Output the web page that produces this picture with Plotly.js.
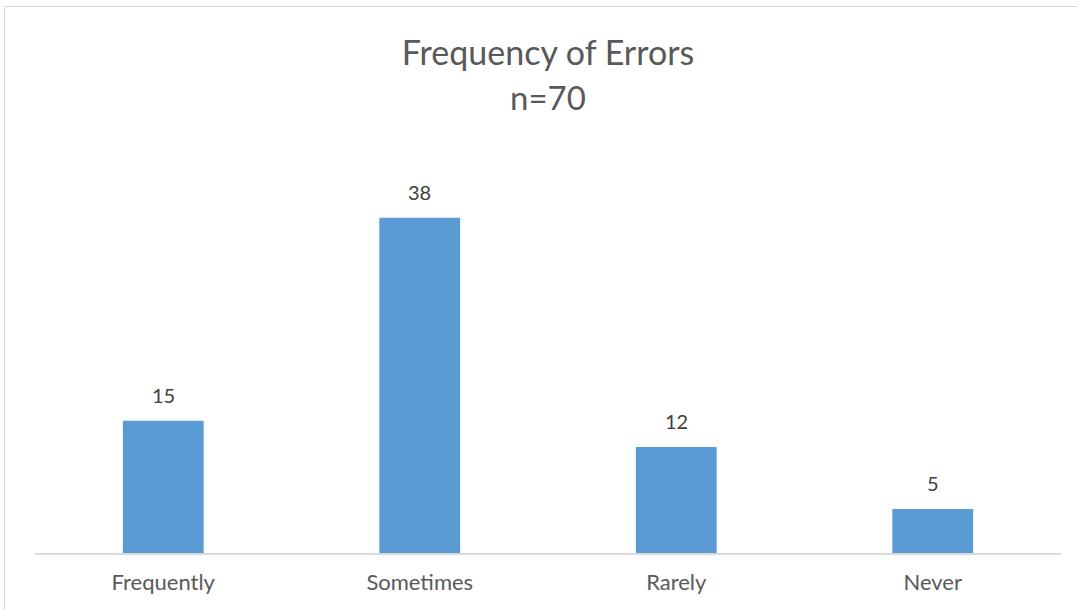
<!DOCTYPE html>
<html>
<head>
<meta charset="utf-8">
<script src="https://cdn.plot.ly/plotly-3.0.1.min.js"></script>
<style>
  html, body { margin: 0; padding: 0; background: #fff; overflow: hidden; }
  #wrap { position: relative; width: 1077px; height: 610px; }
  #frame { position: absolute; left: 4px; top: 6px; width: 1200px; height: 800px; border: 1.5px solid #d9d9d9; box-sizing: border-box; pointer-events: none; }
  #chart { position: absolute; left: 0; top: 0; width: 1077px; height: 610px; }
</style>
</head>
<body>
<div id="wrap">
  <div id="chart"></div>
  <div id="frame"></div>
</div>
<script>
const categories = ["Frequently", "Sometimes", "Rarely", "Never"];
const counts = [15, 38, 12, 5];
const chartTitle = "Frequency of Errors";
const subTitle = "n=70";

const FONT = "Lato, 'Open Sans', sans-serif";

const trace = {
  type: "bar",
  x: categories,
  y: counts,
  width: 0.315,
  marker: { color: "#5b9bd5", line: { width: 0 } },
  hoverinfo: "x+y"
};

const labelAnnotations = categories.map((c, i) => ({
  x: c, y: counts[i], xref: "x", yref: "y",
  text: String(counts[i]),
  showarrow: false,
  yanchor: "middle",
  yshift: 26,
  font: { family: FONT, size: 20, color: "#404040" }
}));

const layout = {
  width: 1077, height: 610,
  margin: { l: 35, r: 16, t: 200, b: 57 },
  paper_bgcolor: "rgba(0,0,0,0)",
  plot_bgcolor: "rgba(0,0,0,0)",
  showlegend: false,
  title: {
    text: chartTitle,
    font: { family: FONT, size: 34, color: "#595959" },
    x: 548 / 1077, xanchor: "center",
    y: 1 - 53/610, yref: "container", yanchor: "middle"
  },
  xaxis: {
    type: "category",
    showline: true, linecolor: "#d9d9d9", linewidth: 1.5,
    showgrid: false, zeroline: false,
    ticks: "",
    tickfont: { family: FONT, size: 22, color: "#595959" },
    ticklabelstandoff: 9,
    fixedrange: true
  },
  yaxis: {
    range: [0, 40],
    visible: false,
    showgrid: false, zeroline: false,
    fixedrange: true
  },
  annotations: [
    {
      xref: "paper", yref: "paper", x: (548 - 35) / 1026,
      y: 1 + (200 - 97) / 353, yanchor: "middle",
      text: subTitle, showarrow: false,
      font: { family: FONT, size: 33, color: "#595959" }
    }
  ].concat(labelAnnotations)
};

Plotly.newPlot("chart", [trace], layout, { displayModeBar: false, staticPlot: true });
</script>
</body>
</html>
